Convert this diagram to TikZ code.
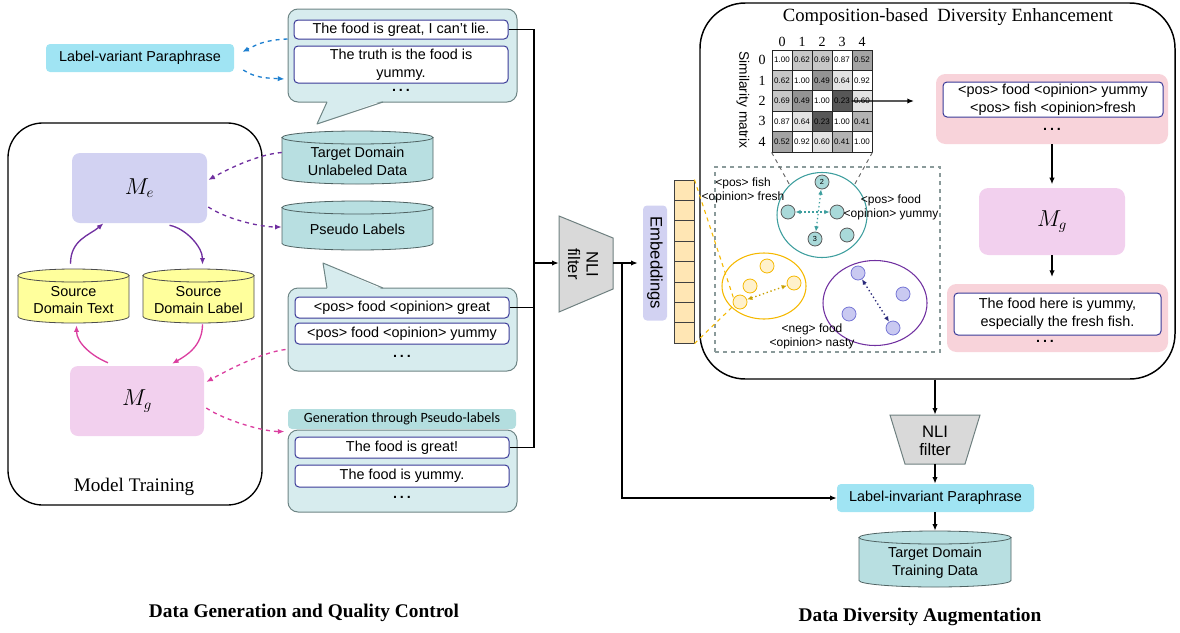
\documentclass[tikz,border=0pt]{standalone}
\usepackage{fontspec}
\setmainfont{Liberation Sans}
\newfontfamily\timesf{Liberation Serif}
\newfontfamily\calibf{Carlito}
\usetikzlibrary{arrows.meta,calc,fit,shapes.geometric}
\definecolor{bubfill}{HTML}{D7ECEE}
\definecolor{bubdraw}{HTML}{6E8585}
\definecolor{boxblue}{HTML}{3A3A98}
\definecolor{cyanlab}{HTML}{A0E4F3}
\definecolor{genlab}{HTML}{B3DEDF}
\definecolor{cylteal}{HTML}{B8DFE1}
\definecolor{cyldraw}{HTML}{4F6262}
\definecolor{cylyel}{HTML}{FFFF9C}
\definecolor{lav}{HTML}{D2D2F2}
\definecolor{pinkm}{HTML}{F2D0EE}
\definecolor{pinkbox}{HTML}{F8D3DA}
\definecolor{purp}{HTML}{7030A0}
\definecolor{mag}{HTML}{DB3FA0}
\definecolor{blued}{HTML}{1F80D0}
\definecolor{nligray}{HTML}{D9D9D9}
\definecolor{nlidraw}{HTML}{6F8080}
\definecolor{embc}{HTML}{FFE6B4}
\definecolor{tealc}{HTML}{3D9E9E}
\definecolor{tealf}{HTML}{A9D9D9}
\definecolor{yelc}{HTML}{F5B800}
\definecolor{yeld}{HTML}{C8A000}
\definecolor{yelf}{HTML}{FFF1CC}
\definecolor{purf}{HTML}{C9C9F1}
\definecolor{purd}{HTML}{7575D5}
\definecolor{navy}{HTML}{2A2A7A}
\definecolor{dashg}{HTML}{8A9A9A}
\newcommand\fmain{\fontsize{10.8}{13.3}\selectfont}
\newcommand\fsm{\fontsize{9}{10.5}\selectfont}
\newcommand\mydots{\textbf{.\hspace{2.2pt}.\hspace{2.2pt}.}}
\newcommand\mycyl[7]{%
 \pgfmathsetmacro\cylcx{(#2+#4)/2}%
 \pgfmathsetmacro\cylrx{(#4-#2)/2}%
 \filldraw[#6] ({#2},{-#3-6.5}) -- ({#2},{-#5+6.5}) arc[start angle=180,end angle=360,x radius=\cylrx,y radius=6.5] -- ({#4},{-#3-6.5}) -- cycle;
 \filldraw[#6] (\cylcx,{-#3-6.5}) ellipse[x radius=\cylrx,y radius=6.5];
 \node[inner sep=0,fit={({#2},{-#3})({#4},{-#5})}] (#1) {};
 \node[align=center,font=\fmain] (#1-t) at (\cylcx,{-(#3+#5)/2-4}) {#7};
}
\begin{document}
\begin{tikzpicture}[x=0.75pt,y=0.75pt,
  bx/.style args={#1/#2/#3/#4}{inner sep=0,minimum width={(#3-#1)*0.75pt},minimum height={(#4-#2)*0.75pt},at={({(#1+#3)/2},{-(#2+#4)/2})}},
  tbox/.style={draw=boxblue,fill=white,rounded corners=3pt,line width=0.75pt,inner sep=0,align=center,font=\fmain},
  bub/.style={draw=bubdraw,fill=bubfill,rounded corners=7.5pt,line width=0.75pt,inner sep=0},
  cylt/.style={fill=cylteal,draw=cyldraw,line width=0.6pt},
  cyly/.style={fill=cylyel,draw=black!70,line width=0.6pt},
  conn/.style={line width=1pt},
  arrc/.style={line width=1pt,-{Latex[length=5pt,width=4pt]}},
  tipc/.style={-{Latex[length=5pt,width=4pt]}},
  mcell/.style={draw=black!85,line width=0.6pt,minimum width=15pt,minimum height=15.3pt,inner sep=0,font=\fontsize{6}{7}\selectfont},
  ecell/.style={draw=black!75,fill=embc,line width=0.6pt,minimum width=15pt,minimum height=15.3pt,inner sep=0},
  tcir/.style={circle,draw=black!65,fill=tealf,minimum size=10.5pt,inner sep=0,line width=0.6pt,font=\fontsize{5.5}{6}\selectfont},
  ycir/.style={circle,draw=yelc,fill=yelf,minimum size=10.5pt,inner sep=0,line width=0.6pt},
  pcir/.style={circle,draw=purd,fill=purf,minimum size=10.5pt,inner sep=0,line width=0.6pt},
  dtip/.style={{Latex[length=4pt,width=3.5pt]}-{Latex[length=4pt,width=3.5pt]}},
]
\useasboundingbox (0,0) rectangle (1180,-632);

% ---------------- left: model training ----------------
\node[draw,line width=1pt,rounded corners=26pt,bx=8/123/262/505] (mt) {};
\node[font=\timesf\fontsize{14.4}{16}\selectfont] (mtl) at (134,-487) {Model Training};
\node[fill=lav,rounded corners=6pt,bx=72/153/207/223,font=\fontsize{16}{18}\selectfont] (me) {$M_e$};
\node[fill=pinkm,rounded corners=6pt,bx=70/366/204/436,font=\fontsize{16}{18}\selectfont] (mg) {$M_g$};
\mycyl{sdt}{18}{269}{129}{323}{cyly}{Source\\Domain Text}
\mycyl{sdl}{143}{269}{254}{323}{cyly}{Source\\Domain Label}

\draw[purp,line width=1pt,tipc] ($(sdt.north)+(-3,5)$) .. controls +(0,24) and +(-14,-12) .. ($(me.south)+(-36,0)$);
\draw[purp,line width=1pt,tipc] ($(me.south)+(30,-2)$) .. controls +(16,-3) and +(0,18) .. ($(sdl.north)+(4,4)$);
\draw[mag,line width=1pt,tipc] ($(sdl.south)+(4,-1)$) .. controls +(0,-22) and +(14,8) .. ($(mg.north)+(35,2)$);
\draw[mag,line width=1pt,tipc] ($(mg.north)+(-29,3)$) .. controls +(-15,6) and +(0,-18) .. ($(sdt.south)+(3,-2)$);

% ---------------- label-variant & top bubble ----------------
\node[fill=cyanlab,rounded corners=3pt,bx=46/44/234/72,font=\fmain] (lvp) {Label-variant Paraphrase};
\node[bub,bx=288/9/517/102] (tbub) {};
\fill[bubfill] (327.6,-100.8) -- (317,-124) -- (382,-100.8) -- cycle;
\draw[bubdraw,line width=0.75pt,line join=round] (327,-102) -- (317,-124) -- (383,-102);
\node[tbox,bx=294/20/508/39] (tb1) {The food is great, I can’t lie.};
\node[tbox,bx=294/46/508/83] (tb2) {The truth is the food is\\yummy.};
\node[font=\fmain] (tbd) at (401,-90) {\mydots};

\draw[blued,dashed,line width=1pt,tipc] ($(tbub.west)+(0,16.5)$) .. controls +(-25,-1) and +(12,6) .. ($(lvp.east)+(8,6)$);
\draw[blued,dashed,line width=1pt,tipc] ($(lvp.east)+(9,-12)$) .. controls +(12,-8) and +(-18,1) .. ($(tbub.west)+(-3,-23.5)$);

% ---------------- cylinders ----------------
\mycyl{tdu}{282}{131}{433}{184}{cylt}{Target Domain\\Unlabeled Data}
\mycyl{pl}{282}{201}{433}{250}{cylt}{Pseudo Labels}
\draw[purp,dashed,line width=1pt,tipc] ($(tdu.west)+(0,5)$) .. controls +(-25,-2) and +(18,10) .. ($(me.east)+(1,8)$);
\draw[purp,dashed,line width=1pt,tipc] ($(me.east)+(1,-19)$) .. controls +(18,-12) and +(-22,0) .. ($(pl.west)+(0,-1.5)$);

% ---------------- pseudo-label bubble ----------------
\node[bub,bx=288/288/517/371] (pbub) {};
\fill[bubfill] (327.3,-289.2) -- (323,-263) -- (382,-289.2) -- cycle;
\draw[bubdraw,line width=0.75pt,line join=round] (327,-288) -- (323,-263) -- (383,-288);
\node[tbox,bx=295/297/509/318] (pb1) {<pos> food <opinion> great};
\node[tbox,bx=295/323/509/344] (pb2) {<pos> food <opinion> yummy};
\node[font=\fmain] (pbd) at (402,-356) {\mydots};

% ---------------- generation bubble ----------------
\node[fill=genlab,rounded corners=3pt,bx=288/409/516/429,font=\calibf\fontsize{10.6}{12}\selectfont] (glab) {Generation through Pseudo-labels};
\node[bub,bx=288/430/517/512] (gbub) {};
\node[tbox,bx=295/437/509/458] (gb1) {The food is great!};
\node[tbox,bx=295/465/509/487] (gb2) {The food is yummy.};
\node[font=\fmain] (gbd) at (402,-497) {\mydots};

\draw[mag,dashed,line width=1pt,tipc] ($(pbub.west)+(-2,-20)$) .. controls +(-25,-3) and +(18,10) .. ($(mg.east)+(2,19)$);
\draw[mag,dashed,line width=1pt,tipc] ($(mg.east)+(2,-7)$) .. controls +(18,-12) and +(-22,0) .. ($(gbub.north west)+(-3,-2)$);

% ---------------- connectors & NLI ----------------
\coordinate (J) at (534,-263);
\coordinate (K) at (622,-263);
\draw[conn] (tb1.east) -| (J);
\draw[conn] (gb1.east) -| (J);
\draw[conn] (pb1.east) -- (pb1.east -| J);
\node[bx=559/215/613/311] (nli1) {};
\filldraw[fill=nligray,draw=nlidraw,line width=0.75pt] (559,-216) -- (613,-238) -- (613,-289) -- (559,-312) -- cycle;
\node[rotate=-90,align=center,font=\fontsize{12.5}{14}\selectfont] (nli1t) at (583,-264) {NLI\\filter};
\draw[arrc] (J) -- (nli1.west);
\node[fill=lav,rounded corners=3pt,rotate=-90,minimum width=86.25pt,minimum height=18pt,inner sep=0,font=\fontsize{12.5}{14}\selectfont] (embl) at (655,-263) {Embeddings};
\draw[arrc] (nli1.east) -- ($(embl.south)+(-5,0)$);
\foreach \k in {0,...,7} \node[ecell] (e\k) at (684,{-190.2-20.4*\k}) {};

% ---------------- right big box ----------------
\node[draw,line width=1.1pt,rounded corners=34pt,bx=700/3/1175/379] (cde) {};
\node[font=\timesf\fontsize{14}{16}\selectfont] (cdet) at (948,-17) {Composition-based\ \ Diversity Enhancement};

% similarity matrix
\foreach \i in {0,...,4} {
  \node[font=\timesf\fontsize{10.5}{12}\selectfont] (cl\i) at ({782+20*\i},-42) {\i};
  \node[font=\timesf\fontsize{10.5}{12}\selectfont] (rl\i) at (762,{-60.2-20.4*\i}) {\i};
}
\foreach \j/\i/\v/\c in {
 0/0/1.00/white, 0/1/0.62/black!22, 0/2/0.69/black!22, 0/3/0.87/white, 0/4/0.52/black!36,
 1/0/0.62/black!22, 1/1/1.00/white, 1/2/0.49/black!42, 1/3/0.64/black!11, 1/4/0.92/white,
 2/0/0.69/black!22, 2/1/0.49/black!42, 2/2/1.00/white, 2/3/0.23/black!66, 2/4/0.60/black!11,
 3/0/0.87/white, 3/1/0.64/black!11, 3/2/0.23/black!66, 3/3/1.00/white, 3/4/0.41/black!30,
 4/0/0.52/black!36, 4/1/0.92/white, 4/2/0.60/black!11, 4/3/0.41/black!30, 4/4/1.00/white}
 \node[mcell,fill=\c] (m\j\i) at ({782+20*\i},{-60.2-20.4*\j}) {\v};
\node[rotate=-90,font=\fontsize{10.3}{12}\selectfont] (simlab) at (743,-100) {Similarity matrix};
\coordinate (mxb) at (914,-101);
\draw[arrc] (m24.west) -- (mxb);

% clusters
\node[draw=dashg,dashed,line width=0.8pt,bx=715/167/940/352] (clu) {};
\node[ellipse,draw=tealc,line width=0.8pt,minimum width=67.5pt,minimum height=63.75pt,inner sep=0] (te) at (822,-215) {};
\draw[dashed,black!60,line width=0.7pt] (m40.south west) -- (te.137);
\draw[dashed,black!60,line width=0.7pt] (m44.south east) -- (te.43);
\node[tcir] (tc2) at (822,-182) {2};
\node[tcir] (tcl) at (788,-212) {};
\node[tcir] (tcr) at (837,-212) {};
\node[tcir] (tc3) at (815,-239) {3};
\node[tcir] (tc5) at (847,-235) {};
\draw[tealc,dotted,line width=1pt,dtip] (tcl) -- (tcr);
\draw[tealc,dotted,line width=1pt,dtip] (tc2) -- (tc3);

\node[ellipse,draw=yelc,line width=0.8pt,minimum width=63pt,minimum height=49.5pt,inner sep=0] (ye) at (764,-286) {};
\node[ycir] (yc1) at (767,-266) {};
\node[ycir] (yc2) at (750,-286) {};
\node[ycir] (yc3) at (794,-283) {};
\node[ycir] (yc4) at (740,-302) {};
\draw[yeld,dotted,line width=1pt,dtip] (yc4) -- (yc3);

\node[ellipse,draw=purp,line width=0.8pt,minimum width=78pt,minimum height=63.75pt,inner sep=0] (pe) at (875,-303) {};
\node[pcir] (pc1) at (858,-273) {};
\node[pcir] (pc2) at (903,-294) {};
\node[pcir] (pc3) at (849,-314) {};
\node[pcir] (pc4) at (893,-328) {};
\draw[navy,dotted,line width=1pt,dtip] (pc1) -- (pc4);

\node[font=\fsm,align=center] (lab1) at (743,-190) {<pos> fish\\<opinion> fresh};
\node[font=\fsm,align=center] (lab2) at (891,-207) {<pos> food\\<opinion> yummy};
\node[font=\fsm,align=center] (lab3) at (812,-336) {<neg> food\\<opinion> nasty};

\draw[yelc,dashed,line width=0.8pt] (e0.north east) -- (yc4.150);
\draw[yelc,dashed,line width=0.8pt] (e7.south east) -- (yc4.210);

% right chain
\node[fill=pinkbox,rounded corners=7pt,bx=936/74/1168/144] (pk1) {};
\node[tbox,bx=943/82/1163/117] (rb1) {<pos> food <opinion> yummy\\<pos> fish <opinion>fresh};
\node[font=\fmain] (pk1d) at (1052,-129) {\mydots};
\node[fill=pinkm,rounded corners=7pt,bx=979/188/1125/255,font=\fontsize{16}{18}\selectfont] (mg2) {$M_g$};
\draw[arrc,shorten >=2.5pt] (pk1.south) -- (pk1.south |- mg2.north);
\node[fill=pinkbox,rounded corners=7pt,bx=947/284/1168/352] (pk2) {};
\node[tbox,bx=954/293/1161/335] (rb2) {The food here is yummy,\\especially the fresh fish.};
\node[font=\fmain] (pk2d) at (1045,-341) {\mydots};
\draw[arrc,shorten >=5pt] (mg2.south) -- (mg2.south |- pk2.north);

% ---------------- bottom chain ----------------
\node[bx=890/415/980/464] (nli2) {};
\filldraw[fill=nligray,draw=nlidraw,line width=0.75pt] (890,-415) -- (980,-415) -- (965,-464) -- (905,-464) -- cycle;
\node[align=center,font=\fontsize{12.5}{14}\selectfont] (nli2t) at (935,-441) {NLI\\filter};
\draw[arrc] (cde.south -| nli2.north) -- (nli2.north);
\node[fill=cyanlab,rounded corners=3pt,bx=837/484/1034/512,font=\fmain] (lip) {Label-invariant Paraphrase};
\draw[arrc] (nli2.south) -- (nli2.south |- lip.north);
\draw[arrc] (K) |- (lip.west);
\mycyl{tdt}{859}{531}{1011}{587}{cylt}{Target Domain\\Training Data}
\draw[arrc] (lip.south -| tdt.north) -- (tdt.north);

% captions
\node[font=\timesf\bfseries\fontsize{14.5}{16}\selectfont] (cap1) at (304,-613) {Data Generation and Quality Control};
\node[font=\timesf\bfseries\fontsize{14.5}{16}\selectfont] (cap2) at (920,-617) {Data Diversity Augmentation};
\end{tikzpicture}
\end{document}
